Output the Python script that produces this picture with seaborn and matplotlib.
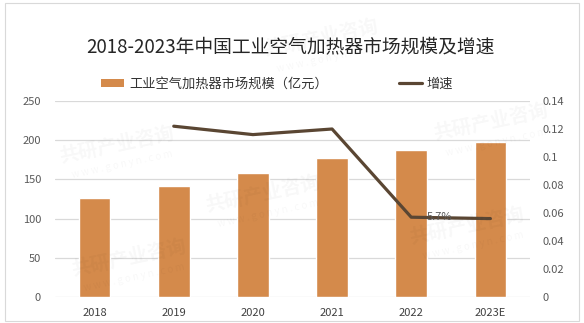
import numpy as np
import pandas as pd
import matplotlib
matplotlib.use("Agg")
import matplotlib.pyplot as plt
from matplotlib.patches import Patch, Rectangle
from matplotlib.lines import Line2D
import seaborn as sns

years = ["2018", "2019", "2020", "2021", "2022", "2023E"]
market_size = [126, 141.5, 158, 177, 187.5, 197.5]          # 亿元
growth_rate = [np.nan, 0.122, 0.116, 0.120, 0.057, 0.056]
left_ticks = [0, 50, 100, 150, 200, 250]
right_ticks = [0, 0.02, 0.04, 0.06, 0.08, 0.1, 0.12, 0.14]
right_tick_labels = ["0", "0.02", "0.04", "0.06", "0.08", "0.1", "0.12", "0.14"]

title = "2018-2023年中国工业空气加热器市场规模及增速"
bar_name = "工业空气加热器市场规模（亿元）"
line_name = "增速"
point_label = "5.7%"

sns.set_theme(style="white")
plt.rcParams["font.family"] = ["Noto Sans CJK SC", "DejaVu Sans"]

BAR = "#D48A4B"
LINE = "#5A4633"
GRID = "#D9D9D9"
TICK = "#595959"

df = pd.DataFrame({"year": years, "size": market_size, "growth": growth_rate})
df["pos"] = np.arange(len(df))

fig = plt.figure(figsize=(5.84, 3.23), dpi=100)
fig.patch.set_facecolor("white")
fig.add_artist(Rectangle((0.008, 0.006), 0.984, 0.986, transform=fig.transFigure,
                         fill=False, edgecolor="#D9D9D9", linewidth=0.8))

ax = fig.add_axes([0.0942, 0.0805, 0.8133, 0.6068])
sns.barplot(data=df, x="year", y="size", color=BAR, width=0.40,
            saturation=1, ax=ax, zorder=2)
ax.set_ylim(0, 250)
ax.set_xlim(-0.5, len(years) - 0.5)
ax.set_yticks(left_ticks)
ax.yaxis.grid(True, color=GRID, linewidth=0.9, zorder=0)
ax.set_axisbelow(True)
ax.set_xlabel("")
ax.set_ylabel("")
ax.tick_params(axis="y", length=0, pad=10, labelsize=8, labelcolor=TICK)
ax.tick_params(axis="x", length=0, pad=8, labelsize=8, labelcolor="#404040")
for s in ax.spines.values():
    s.set_visible(False)

ax2 = ax.twinx()
sns.lineplot(data=df.dropna(), x="pos", y="growth", color=LINE, linewidth=2.3,
             ax=ax2, zorder=3)
ax2.set_ylim(0, 0.14)
ax2.set_yticks(right_ticks)
ax2.set_yticklabels(right_tick_labels)
ax2.set_xlim(-0.5, len(years) - 0.5)
ax2.set_xlabel("")
ax2.set_ylabel("")
ax2.tick_params(axis="y", length=0, pad=9, labelsize=8, labelcolor=TICK)
for s in ax2.spines.values():
    s.set_visible(False)

i22 = years.index("2022")
ax2.annotate(point_label, xy=(df["pos"][i22], growth_rate[i22]),
             xytext=(15, 0), textcoords="offset pixels",
             ha="left", va="center", fontsize=8, color=TICK)

fig.text(0.497, 0.855, title, ha="center", va="center", fontsize=13.5, color="#262626")

handles = [Patch(facecolor=BAR, edgecolor="none"),
           Line2D([0], [0], color=LINE, linewidth=2.3)]
fig.legend(handles, [bar_name, line_name], loc="center", bbox_to_anchor=(0.475, 0.74),
           ncol=2, frameon=False, fontsize=9.5, handlelength=1.7, handleheight=0.55,
           handletextpad=0.4, columnspacing=5.4, labelcolor="#333333")

# faint brand watermark
marks = [(0.20, 0.55), (0.55, 0.88), (0.84, 0.62), (0.45, 0.40), (0.80, 0.30),
         (0.22, 0.20)]
for mx, my in marks:
    fig.text(mx, my, "共研产业咨询", fontsize=14, color="#000000", alpha=0.03,
             rotation=12, ha="center", va="center", fontweight="bold")
    fig.text(mx + 0.01, my - 0.06, "w w w . g o n y n . c o m", fontsize=7,
             color="#000000", alpha=0.03, rotation=12, ha="center", va="center")

fig.savefig("out.png", dpi=100, facecolor="white")
